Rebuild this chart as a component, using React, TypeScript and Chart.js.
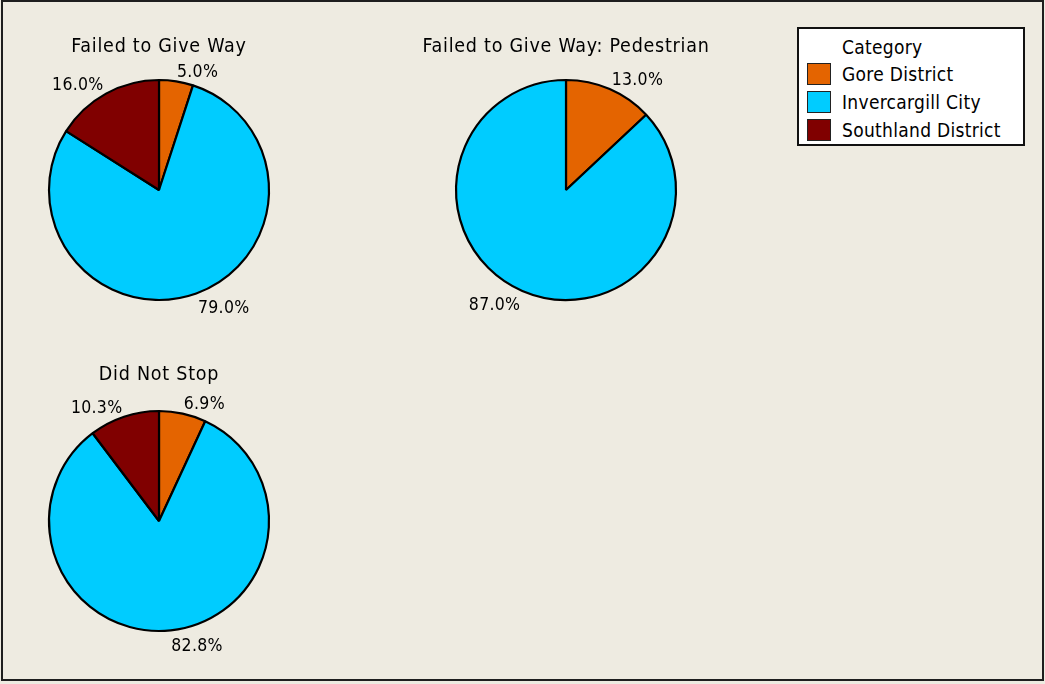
import React, { useEffect, useRef } from "react";
import { Chart, registerables } from "chart.js";

Chart.register(...registerables);

// ---- data ----
const categories = ["Gore District", "Invercargill City", "Southland District"];
const sliceColors = ["#E46400", "#00CCFF", "#800000"];
const pieTitles = ["Failed to Give Way", "Failed to Give Way: Pedestrian", "Did Not Stop"];
const failedToGiveWay = [5.0, 79.0, 16.0];
const failedToGiveWayPedestrian = [13.0, 87.0, 0];
const didNotStop = [6.9, 82.8, 10.3];
const legendTitle = "Category";

// ---- layout ----
const FONT = "'DejaVu Sans Condensed', 'DejaVu Sans', sans-serif";
const TEXT = "#000000";
const BG = "#EEEBE1";
const CANVAS = 340;
const RADIUS = 110;

const pieTextPlugin = {
  id: "pieText",
  afterDraw(chart: any, _args: any, opts: any) {
    const ctx = chart.ctx;
    const meta = chart.getDatasetMeta(0);
    const values = chart.data.datasets[0].data as number[];
    const first = meta.data[0] as any;
    const cx = first.x;
    const cy = first.y;
    const r = first.outerRadius;
    ctx.save();
    ctx.fillStyle = TEXT;
    ctx.font = `19.5px ${FONT}`;
    (ctx as any).letterSpacing = "0.75px";
    ctx.textAlign = "center";
    ctx.textBaseline = "middle";
    ctx.fillText(opts.title, cx, cy - r - opts.titleGap);
    ctx.font = `17.5px ${FONT}`;
    (ctx as any).letterSpacing = "0.3px";
    meta.data.forEach((arc: any, i: number) => {
      const v = values[i];
      if (!v) return;
      const a = (arc.startAngle + arc.endAngle) / 2;
      const c = Math.cos(a);
      const s = Math.sin(a);
      const x = cx + (r + 5) * c;
      const y = cy + (r + (s < 0 ? 9 : 16)) * s;
      ctx.textAlign = c >= 0 ? "left" : "right";
      ctx.fillText(v.toFixed(1) + "%", x, y);
    });
    ctx.restore();
  },
};

function Pie({ title, values, cx, cy, titleGap }: { title: string; values: number[]; cx: number; cy: number; titleGap: number }) {
  const ref = useRef<HTMLCanvasElement | null>(null);
  useEffect(() => {
    if (!ref.current) return;
    const chart = new Chart(ref.current, {
      type: "pie",
      data: {
        labels: categories,
        datasets: [
          {
            data: values,
            backgroundColor: sliceColors,
            borderColor: "#000000",
            borderWidth: 2.2,
          },
        ],
      },
      options: {
        responsive: false,
        animation: false,
        radius: RADIUS,
        layout: { padding: 0 },
        events: [],
        plugins: {
          legend: { display: false },
          tooltip: { enabled: false },
          title: { display: false },
          pieText: { title, titleGap },
        } as any,
      } as any,
      plugins: [pieTextPlugin],
    });
    return () => chart.destroy();
  }, []);
  return (
    <canvas
      ref={ref}
      width={CANVAS}
      height={CANVAS}
      style={{ position: "absolute", left: cx - CANVAS / 2, top: cy - CANVAS / 2, width: CANVAS, height: CANVAS }}
    />
  );
}

function Legend() {
  const rowTops = [74, 102, 130];
  return (
    <div
      style={{
        position: "absolute",
        left: 797,
        top: 27,
        width: 228,
        height: 119,
        boxSizing: "border-box",
        border: "2px solid #111",
        background: "#FFFFFF",
        fontFamily: FONT,
        fontSize: 19,
        letterSpacing: "0.3px",
        color: TEXT,
      }}
    >
      <div style={{ position: "absolute", left: 43, top: 47 - 27 - 2 - 11, lineHeight: "22px", whiteSpace: "nowrap" }}>{legendTitle}</div>
      {categories.map((c, i) => (
        <React.Fragment key={c}>
          <div
            style={{
              position: "absolute",
              left: 8,
              top: rowTops[i] - 27 - 2 - 11,
              width: 24,
              height: 22,
              boxSizing: "border-box",
              border: "1.5px solid #222",
              background: sliceColors[i],
            }}
          />
          <div
            style={{
              position: "absolute",
              left: 43,
              top: rowTops[i] - 27 - 2 - 11,
              lineHeight: "22px",
              whiteSpace: "nowrap",
            }}
          >
            {c}
          </div>
        </React.Fragment>
      ))}
    </div>
  );
}

export default function App() {
  return (
    <div
      style={{
        position: "fixed",
        left: 0,
        top: 0,
        width: 1045,
        height: 684,
        background: BG,
        overflow: "hidden",
      }}
    >
      <Pie title={pieTitles[0]} values={failedToGiveWay} cx={159} cy={190} titleGap={33} />
      <Pie title={pieTitles[1]} values={failedToGiveWayPedestrian} cx={566} cy={190} titleGap={33} />
      <Pie title={pieTitles[2]} values={didNotStop} cx={159} cy={521} titleGap={36} />
      <Legend />
      <div
        style={{
          position: "absolute",
          left: 1,
          top: 0,
          width: 1043,
          height: 681,
          boxSizing: "border-box",
          border: "2px solid #1E1E1E",
          pointerEvents: "none",
        }}
      />
    </div>
  );
}
